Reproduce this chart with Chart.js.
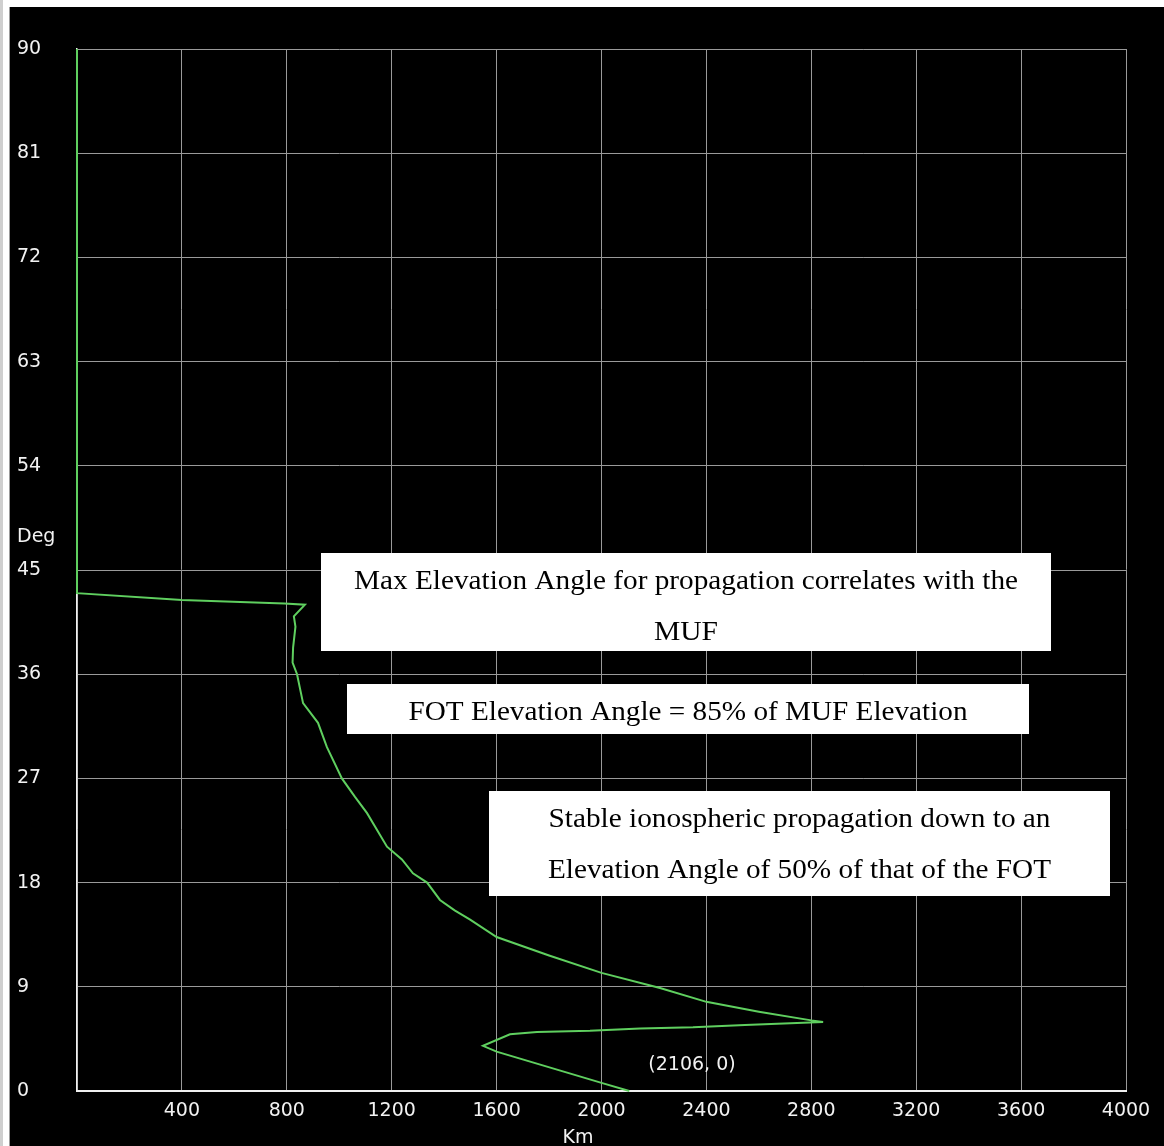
<!DOCTYPE html>
<html>
<head>
<meta charset="utf-8">
<title>Elevation angle vs distance</title>
<script src="https://cdn.jsdelivr.net/npm/chart.js@4.4.0/dist/chart.umd.min.js"></script>
<style>
  html, body { margin: 0; padding: 0; background: #000; }
  canvas { display: block; }
</style>
</head>
<body>
<canvas id="elev-chart" width="1164" height="1146"></canvas>
<script>
// Ray trace: ground distance (km) against elevation angle (deg)
const kmValues = [0, 0, 400, 790, 869, 827, 833, 824, 822, 839, 862, 919, 953, 1010, 1060, 1106, 1182, 1239, 1281, 1335, 1384, 1440, 1499, 1600, 1800, 2000, 2223, 2400, 2600, 2800, 2845, 2547, 2349, 2147, 1956, 1754, 1651, 1548, 1600, 2000, 2106];
const degValues = [90, 43.0, 42.4, 42.1, 42.0, 41.0, 40.1, 38.3, 37.0, 36.0, 33.5, 31.8, 29.7, 27.0, 25.4, 24.0, 21.1, 20.0, 18.8, 18.0, 16.5, 15.6, 14.8, 13.3, 11.7, 10.2, 8.9, 7.7, 6.85, 6.1, 5.96, 5.7, 5.5, 5.4, 5.2, 5.1, 4.9, 3.9, 3.4, 0.7, 0];

const kmTicks = [0, 400, 800, 1200, 1600, 2000, 2400, 2800, 3200, 3600, 4000];
const degTicks = [0, 9, 18, 27, 36, 45, 54, 63, 72, 81, 90];

const endPoint = [2106, 0];

// Callout texts, one array entry per box
const notes = [
  ['Max Elevation Angle for propagation correlates with the', 'MUF'],
  ['FOT Elevation Angle = 85% of MUF Elevation'],
  ['Stable ionospheric propagation down to an', 'Elevation Angle of 50% of that of the FOT']
];

// Box geometry in pixels: left, top, right, bottom, then the width each line is set to
const noteBoxes = [
  { l: 321, t: 553, r: 1051, b: 651, widths: [664, 64] },
  { l: 347, t: 684, r: 1029, b: 734, widths: [559] },
  { l: 489, t: 791, r: 1110, b: 896, widths: [502, 503] }
];

const points = kmValues.map((km, i) => ({ x: km, y: degValues[i] }));

const tickFont = { family: 'DejaVu Sans', size: 19 };
const tickColor = '#f2f2f2';
const gridColor = '#9a9a9a';

const backdrop = {
  id: 'backdrop',
  beforeDraw(chart) {
    const ctx = chart.ctx;
    ctx.save();
    ctx.fillStyle = '#000';
    ctx.fillRect(0, 0, chart.width, chart.height);
    // window frame strips
    ctx.fillStyle = '#ffffff';
    ctx.fillRect(0, 0, chart.width, 7);
    ctx.fillRect(0, 0, 9, chart.height);
    ctx.fillStyle = '#cfcfcf';
    ctx.fillRect(0, 0, 3, chart.height);
    ctx.fillStyle = '#9c9c9c';
    ctx.fillRect(9, 7, 1, chart.height);
    ctx.restore();
  }
};

function fitText(ctx, text, cx, baseline, width) {
  const w = ctx.measureText(text).width;
  ctx.save();
  ctx.translate(cx, baseline);
  ctx.scale(width / w, 1);
  ctx.fillText(text, 0, 0);
  ctx.restore();
}

const callouts = {
  id: 'callouts',
  afterDraw(chart) {
    const ctx = chart.ctx;
    const xs = chart.scales.x;
    const ys = chart.scales.y;
    ctx.save();

    // axis captions
    ctx.fillStyle = tickColor;
    ctx.font = '19px "DejaVu Sans"';
    ctx.textBaseline = 'middle';
    ctx.textAlign = 'left';
    ctx.fillText('Deg', 17, 537);
    ctx.textAlign = 'center';
    ctx.fillText('Km', 578, 1138);

    // end point label
    const ex = xs.getPixelForValue(endPoint[0]);
    const ey = ys.getPixelForValue(endPoint[1]);
    ctx.textAlign = 'left';
    ctx.fillText('(' + endPoint[0] + ', ' + endPoint[1] + ')', ex + 19, ey - 26);

    // white note boxes
    ctx.font = '27px "Liberation Serif"';
    ctx.textAlign = 'center';
    ctx.textBaseline = 'alphabetic';
    notes.forEach((lines, i) => {
      const b = noteBoxes[i];
      ctx.fillStyle = '#ffffff';
      ctx.fillRect(b.l, b.t, b.r - b.l, b.b - b.t);
      ctx.fillStyle = '#000000';
      const cx = (b.l + b.r) / 2;
      lines.forEach((line, j) => {
        fitText(ctx, line, cx, b.t + 36 + j * 51, b.widths[j]);
      });
    });
    ctx.restore();
  }
};

new Chart(document.getElementById('elev-chart'), {
  type: 'scatter',
  data: {
    datasets: [{
      data: points,
      showLine: true,
      clip: false,
      borderColor: '#5fcf5f',
      borderWidth: 2,
      pointRadius: 0,
      tension: 0
    }]
  },
  options: {
    responsive: false,
    animation: false,
    layout: { padding: { left: 17, right: 38, top: 49, bottom: 0 } },
    plugins: {
      legend: { display: false },
      tooltip: { enabled: false }
    },
    scales: {
      x: {
        type: 'linear',
        min: 0,
        max: 4000,
        afterBuildTicks: s => { s.ticks = kmTicks.map(v => ({ value: v })); },
        afterFit: s => { s.height = 55; },
        grid: { color: gridColor, drawTicks: false, lineWidth: 1 },
        border: { color: '#f0f0f0', width: 2 },
        ticks: {
          color: tickColor,
          font: tickFont,
          padding: 9,
          maxRotation: 0,
          autoSkip: false,
          callback: v => (v === 0 ? '' : String(v))
        }
      },
      y: {
        type: 'linear',
        min: 0,
        max: 90,
        afterBuildTicks: s => { s.ticks = degTicks.map(v => ({ value: v })); },
        afterFit: s => { s.width = 60; },
        grid: { color: gridColor, drawTicks: false, lineWidth: 1 },
        border: { color: '#f0f0f0', width: 1.5 },
        ticks: {
          color: tickColor,
          font: tickFont,
          crossAlign: 'far',
          autoSkip: false,
          callback: v => String(v)
        }
      }
    }
  },
  plugins: [backdrop, callouts]
});
</script>
</body>
</html>
